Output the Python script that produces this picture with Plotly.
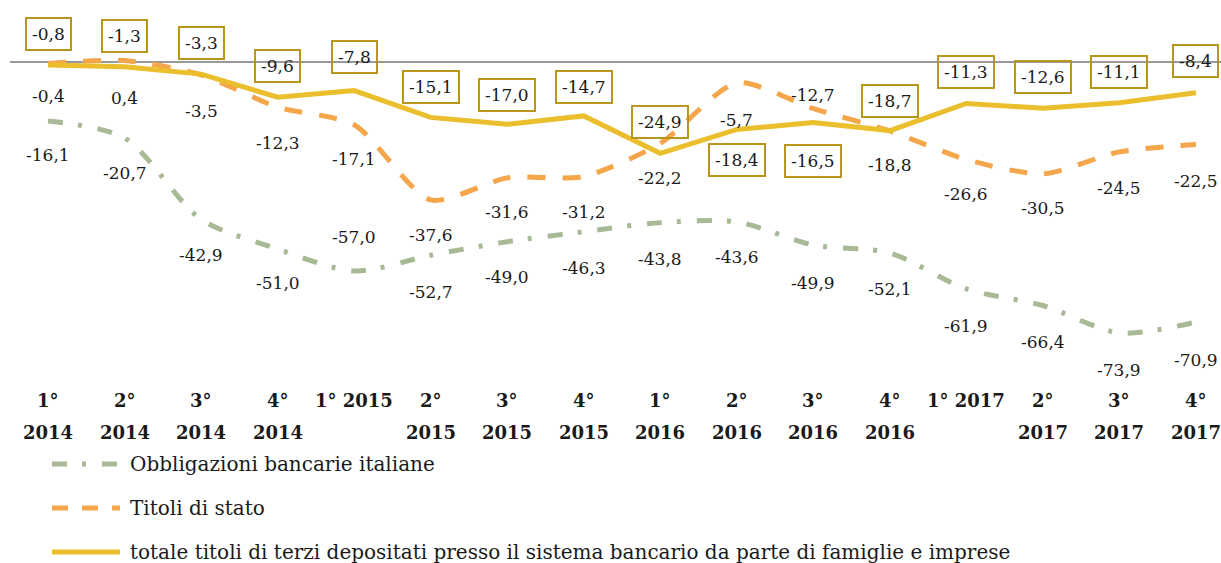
import plotly.graph_objects as go

# ---------------- data ----------------
categories = ["1° 2014", "2° 2014", "3° 2014", "4° 2014",
              "1° 2015", "2° 2015", "3° 2015", "4° 2015",
              "1° 2016", "2° 2016", "3° 2016", "4° 2016",
              "1° 2017", "2° 2017", "3° 2017", "4° 2017"]
tick_labels = ["1°<br>2014", "2°<br>2014", "3°<br>2014", "4°<br>2014",
               "1° 2015", "2°<br>2015", "3°<br>2015", "4°<br>2015",
               "1°<br>2016", "2°<br>2016", "3°<br>2016", "4°<br>2016",
               "1° 2017", "2°<br>2017", "3°<br>2017", "4°<br>2017"]
obbligazioni = [-16.1, -20.7, -42.9, -51.0, -57.0, -52.7, -49.0, -46.3,
                -43.8, -43.6, -49.9, -52.1, -61.9, -66.4, -73.9, -70.9]
titoli_stato = [-0.4, 0.4, -3.5, -12.3, -17.1, -37.6, -31.6, -31.2,
                -22.2, -5.7, -12.7, -18.8, -26.6, -30.5, -24.5, -22.5]
totale = [-0.8, -1.3, -3.3, -9.6, -7.8, -15.1, -17.0, -14.7,
          -24.9, -18.4, -16.5, -18.7, -11.3, -12.6, -11.1, -8.4]
series_names = ["Obbligazioni bancarie italiane",
                "Titoli di stato",
                "totale titoli di terzi depositati presso il sistema bancario da parte di famiglie e imprese"]

# ---------------- styling / layout (not data) ----------------
FONT = "DejaVu Serif"
C_OBB = "#A8B996"
C_TIT = "#F5A54A"
C_TOT = "#EBBE2D"
C_BOX = "#B8961C"
TXT = "#1a1a1a"

shift_obb = [-34, -35, -36, -34, 34, -37, -35, -36, -36, -35, -38, -36, -37, -36, -37, -38]
shift_tit = [-33, -37, -36, -36, -34, -35, -34, -36, -35, -37, 14, -34, -34, -34, -36, -36]
shift_tot = [31, 31, 31, 31, 34, 30, 29, 29, 31, -31, -38, 30, 31, 31, 31, 32]


def fmt(v):
    return f"{v:.1f}".replace(".", ",")


fig = go.Figure()
fig.add_trace(go.Scatter(x=categories, y=obbligazioni, name=series_names[0], mode="lines",
                         line=dict(color=C_OBB, width=5, dash="15px,15px,4px,16px",
                                   shape="spline", smoothing=0.8),
                         showlegend=False))
fig.add_trace(go.Scatter(x=categories, y=titoli_stato, name=series_names[1], mode="lines",
                         line=dict(color=C_TIT, width=5, dash="18px,17px",
                                   shape="spline", smoothing=0.7),
                         showlegend=False))
fig.add_trace(go.Scatter(x=categories, y=totale, name=series_names[2], mode="lines",
                         line=dict(color=C_TOT, width=5),
                         showlegend=False))

annotations = []
for i, c in enumerate(categories):
    annotations.append(dict(x=c, y=obbligazioni[i], xref="x", yref="y", text=fmt(obbligazioni[i]),
                            showarrow=False, yshift=shift_obb[i],
                            font=dict(family=FONT, size=17, color=TXT)))
    annotations.append(dict(x=c, y=titoli_stato[i], xref="x", yref="y", text=fmt(titoli_stato[i]),
                            showarrow=False, yshift=shift_tit[i],
                            font=dict(family=FONT, size=17, color=TXT)))
    annotations.append(dict(x=c, y=totale[i], xref="x", yref="y", text=fmt(totale[i]),
                            showarrow=False, yshift=shift_tot[i], height=20,
                            bordercolor=C_BOX, borderwidth=2, borderpad=5,
                            font=dict(family=FONT, size=17, color=TXT)))
    # category labels (bold, one annotation per line)
    for k, line in enumerate(tick_labels[i].split("<br>")):
        annotations.append(dict(x=c, y=0, xref="x", yref="paper", text=f"<b>{line}</b>",
                                showarrow=False, yanchor="middle", yshift=-15 - 32 * k,
                                font=dict(family=FONT, size=18, color=TXT)))

# custom legend (rows below the plot)
legend_rows = [-79, -123, -167]
legend_dash = ["15px,15px,4px,16px", "16px,14px", "solid"]
legend_col = [C_OBB, C_TIT, C_TOT]
shapes = []
for name, dy, dsh, col in zip(series_names, legend_rows, legend_dash, legend_col):
    shapes.append(dict(type="line", xref="paper", yref="paper",
                       xsizemode="pixel", ysizemode="pixel", xanchor=0, yanchor=0,
                       x0=42, x1=110, y0=dy, y1=dy,
                       line=dict(color=col, width=5, dash=dsh)))
    annotations.append(dict(x=0, y=0, xref="paper", yref="paper", xanchor="left", yanchor="middle",
                            xshift=118, yshift=dy, text=name, showarrow=False,
                            font=dict(family=FONT, size=20, color=TXT)))

fig.update_layout(
    width=1221, height=563,
    margin=dict(l=10, r=0, t=10, b=178),
    paper_bgcolor="white", plot_bgcolor="white",
    annotations=annotations, shapes=shapes,
    showlegend=False,
)
fig.update_xaxes(range=[-0.4965, 15.327], showticklabels=False, showgrid=False,
                 zeroline=False, showline=False, ticks="")
fig.update_yaxes(range=[-88.08, 14.18], showticklabels=False, showgrid=False,
                 zeroline=True, zerolinecolor="#999999", zerolinewidth=2, showline=False, ticks="")

# remove the default page margin so the figure fills the window exactly
fig.write_html("out.html",
               config={"displayModeBar": False},
               post_script="document.body.style.margin='0';"
                           "document.documentElement.style.overflow='hidden';")
